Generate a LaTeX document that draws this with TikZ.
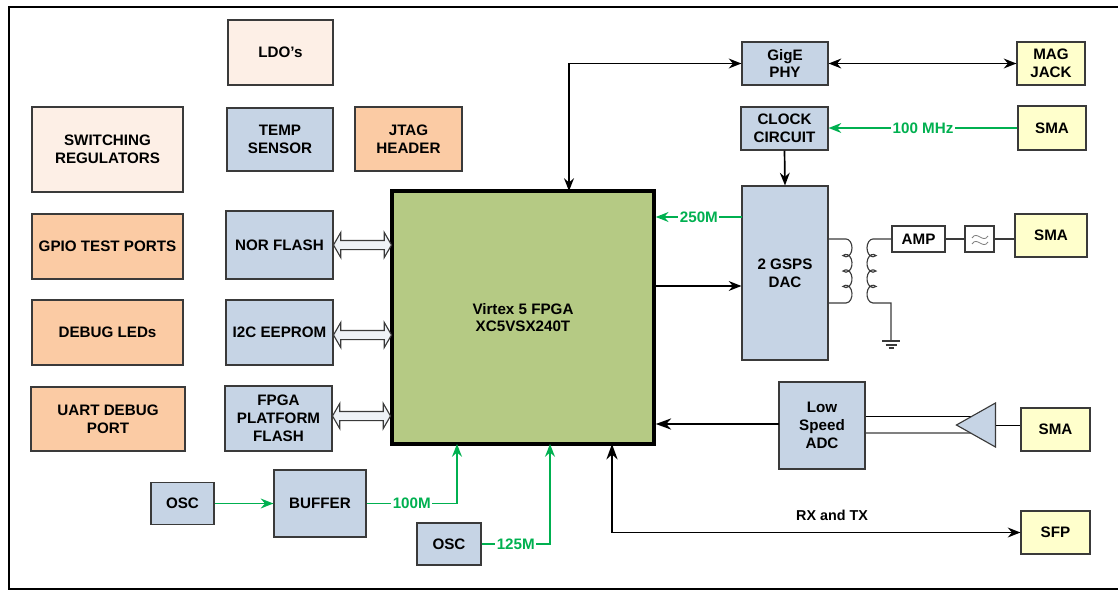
\documentclass[tikz,border=0pt]{standalone}
\usepackage{xcolor}
\usepackage{tikz}
\usepackage{fontspec}
\setmainfont{Liberation Sans}
\definecolor{blockblue}{HTML}{C6D4E5}
\definecolor{paleorange}{HTML}{FDEFE6}
\definecolor{testorange}{HTML}{FBCBA4}
\definecolor{connyellow}{HTML}{FFFFCC}
\definecolor{fpgagreen}{HTML}{B5CA84}
\definecolor{clockgreen}{HTML}{00B050}
\definecolor{edgegray}{HTML}{3A3A3A}
\usetikzlibrary{arrows.meta, shapes.arrows, shapes.geometric}

\begin{document}
\begin{tikzpicture}[
    x=0.025cm, y=-0.025cm,
    sized/.style 2 args={minimum width=#1*0.025cm, minimum height=#2*0.025cm},
    block/.style={rectangle, draw=edgegray, line width=0.8pt, inner sep=0pt, align=center, font=\fontsize{10.8}{12.7}\selectfont\bfseries},
    digital/.style={block, fill=blockblue},
    power/.style={block, fill=paleorange},
    debugport/.style={block, fill=testorange},
    connector/.style={block, fill=connyellow},
    busarrow/.style={double arrow, draw=edgegray, fill=blockblue!30, line width=0.8pt, inner sep=0pt, text height=8*0.025cm, text depth=0pt, minimum height=58*0.025cm, double arrow head extend=8*0.025cm, double arrow tip angle=120},
    sig/.style={line width=1.2pt, -{Stealth[length=9pt, width=7pt]}},
    bothsig/.style={line width=1.2pt, {Stealth[length=9pt, width=7pt]}-{Stealth[length=9pt, width=7pt]}},
    clk/.style={sig, line width=1.4pt, draw=clockgreen},
    clklabel/.style={fill=white, inner sep=1pt, text=clockgreen, font=\fontsize{10.8}{12.7}\selectfont\bfseries},
    wire/.style={line width=0.8pt, draw=edgegray}
]
    \useasboundingbox (0,0) rectangle (1118,591);
    \draw[line width=1.5pt] (1118,7) -- (9,7) -- (9,589) -- (1118,589);

    % left column
    \node[power, sized={105}{65}] (ldo) at (280.5,52.5) {LDO's};
    \node[digital, sized={106}{63}] (temp) at (280,139.5) {TEMP\\SENSOR};
    \node[debugport, sized={107}{64}] (jtag) at (408.5,139) {JTAG\\HEADER};
    \node[power, sized={151}{85}] (regs) at (107.5,149.5) {SWITCHING\\REGULATORS};
    \node[debugport, sized={151}{65}] (gpio) at (107.5,246.5) {GPIO TEST PORTS};
    \node[debugport, sized={151}{65}] (leds) at (107.5,332.5) {DEBUG LEDs};
    \node[debugport, sized={154}{64}] (uart) at (108,419) {UART DEBUG\\PORT};
    \node[digital, sized={107}{68}] (nor) at (279.5,245) {NOR FLASH};
    \node[digital, sized={107}{65}] (eeprom) at (279.5,332.5) {I2C EEPROM};
    \node[digital, sized={107}{65}] (pflash) at (278.5,418.5) {FPGA\\PLATFORM\\FLASH};

    % FPGA
    \node[block, draw=black, fill=fpgagreen, line width=2.5pt, sized={262}{253}] (fpga) at (523,317.5) {Virtex 5 FPGA\\XC5VSX240T};

    % clocks
    \node[digital, sized={63}{42}] (osca) at (182.5,503.5) {OSC};
    \node[digital, sized={92}{67}] (buffer) at (320,503.5) {BUFFER};
    \node[digital, sized={64}{42}] (oscb) at (449,544) {OSC};

    % right column
    \node[digital, sized={86}{43}] (phy) at (785,63.5) {GigE\\PHY};
    \node[digital, sized={87}{43}] (clock) at (784.5,128.5) {CLOCK\\CIRCUIT};
    \node[digital, sized={86}{174}] (dac) at (785,273) {2 GSPS\\DAC};
    \node[digital, sized={86}{87}] (adc) at (822,425.5) {Low\\Speed\\ADC};
    \node[connector, sized={68}{43}] (jack) at (1051,63.5) {MAG\\JACK};
    \node[connector, sized={68}{44}] (smaclk) at (1052,128) {SMA};
    \node[connector, sized={72}{43}] (smadac) at (1051,235.5) {SMA};
    \node[connector, sized={69}{43}] (smaadc) at (1055.5,429.5) {SMA};
    \node[connector, sized={69}{43}] (sfp) at (1055.5,532.5) {SFP};
    \node[block, fill=white, sized={53}{26}] (amp) at (918.5,239) {AMP};
    \node[block, fill=white, sized={29}{26}] (filt) at (979.5,239) {};

    % memory buses
    \node[busarrow] (norbus) at (362.5,245) {};
    \node[busarrow] (eeprombus) at (362.5,335) {};
    \node[busarrow] (pflashbus) at (361.5,416) {};

    % connectors
    \coordinate (phyturn) at (569,63.5);
    \coordinate (fpgatop) at (569,191);
    \draw[bothsig] (fpgatop) -- (phyturn) -- (phy.west);
    \draw[bothsig] (phy.east) -- (jack.west);
    \draw[sig] (clock.south) -- (dac.north);
    \draw[clk] (smaclk.west) -- node[clklabel] {100 MHz} (clock.east |- smaclk.west);
    \coordinate (fasttap) at (742,217);
    \draw[clk] (fasttap) -- node[clklabel] {250M} (fpga.east |- fasttap);
    \coordinate (dacfeed) at (654,286);
    \draw[sig] (dacfeed) -- (dac.west |- dacfeed);
    \coordinate (adcfeed) at (779,424);
    \draw[line width=1.2pt, -{Stealth[length=11pt, width=8pt]}] (adcfeed) -- (fpga.east |- adcfeed);
    \draw[clk] (osca.east) -- (buffer.west);
    \coordinate (ckleft) at (457,444);
    \coordinate (ckright) at (550,444);
    \draw[clk] (buffer.east) -- node[clklabel, pos=0.5] {100M} (ckleft |- buffer.east) -- (ckleft);
    \draw[clk] (oscb.east) -- node[clklabel, pos=0.5] {125M} (ckright |- oscb.east) -- (ckright);
    \coordinate (serdes) at (612,444);
    \draw[line width=1.2pt, {Stealth[length=11pt, width=8pt]}-{Stealth[length=9pt, width=7pt]}] (serdes) -- (serdes |- sfp.west) -- (sfp.west);
    \node[font=\fontsize{10.2}{12}\selectfont\bfseries] (rxtx) at (832,515) {RX and TX};

    % transformer
    \coordinate (priin) at (846,239);
    \coordinate (secin) at (873,239);
    \coordinate (secout) at (891,303);
    \coordinate (gnd) at (891,341);
    \draw[wire] (dac.east |- priin) -- (priin)
        arc[start angle=-90, end angle=120, x radius=6, y radius=8.9]
        arc[start angle=-120, end angle=120, x radius=6, y radius=8.9]
        arc[start angle=-120, end angle=120, x radius=6, y radius=8.9]
        arc[start angle=-120, end angle=90, x radius=6, y radius=8.9] -- (dac.east |- secout);
    \draw[wire] (amp.west) -- (secin)
        arc[start angle=-90, end angle=-300, x radius=6, y radius=8.9]
        arc[start angle=-60, end angle=-300, x radius=6, y radius=8.9]
        arc[start angle=-60, end angle=-300, x radius=6, y radius=8.9]
        arc[start angle=-60, end angle=-270, x radius=6, y radius=8.9] -- (secout) -- (gnd);
    \draw[wire] (882,341) -- (900,341) (885.5,345) -- (896.5,345) (888.5,348) -- (893.5,348);
    \draw[wire] (amp.east) -- (filt.west);
    \draw[wire] (filt.east) -- (smadac.west |- filt.east);
    \draw[gray, line width=0.6pt] (972,238) .. controls (977,230) and (983,244) .. (988,236);
    \draw[gray, line width=0.6pt] (972,244) .. controls (977,236) and (983,250) .. (988,242);

    % ADC input
    \coordinate (rfp) at (978,416);
    \coordinate (rfn) at (978,433);
    \draw[line width=0.7pt] (adc.east |- rfp) -- (rfp);
    \draw[wire, draw=gray] (adc.east |- rfn) -- (rfn);
    \node[isosceles triangle, isosceles triangle stretches, shape border rotate=180, draw=edgegray, fill=blockblue, line width=0.8pt, inner sep=0pt, sized={44}{39}, anchor=east] (inamp) at (996,425) {};
    \draw[line width=0.7pt] (inamp.east) -- (smaadc.west |- inamp.east);
\end{tikzpicture}
\end{document}
